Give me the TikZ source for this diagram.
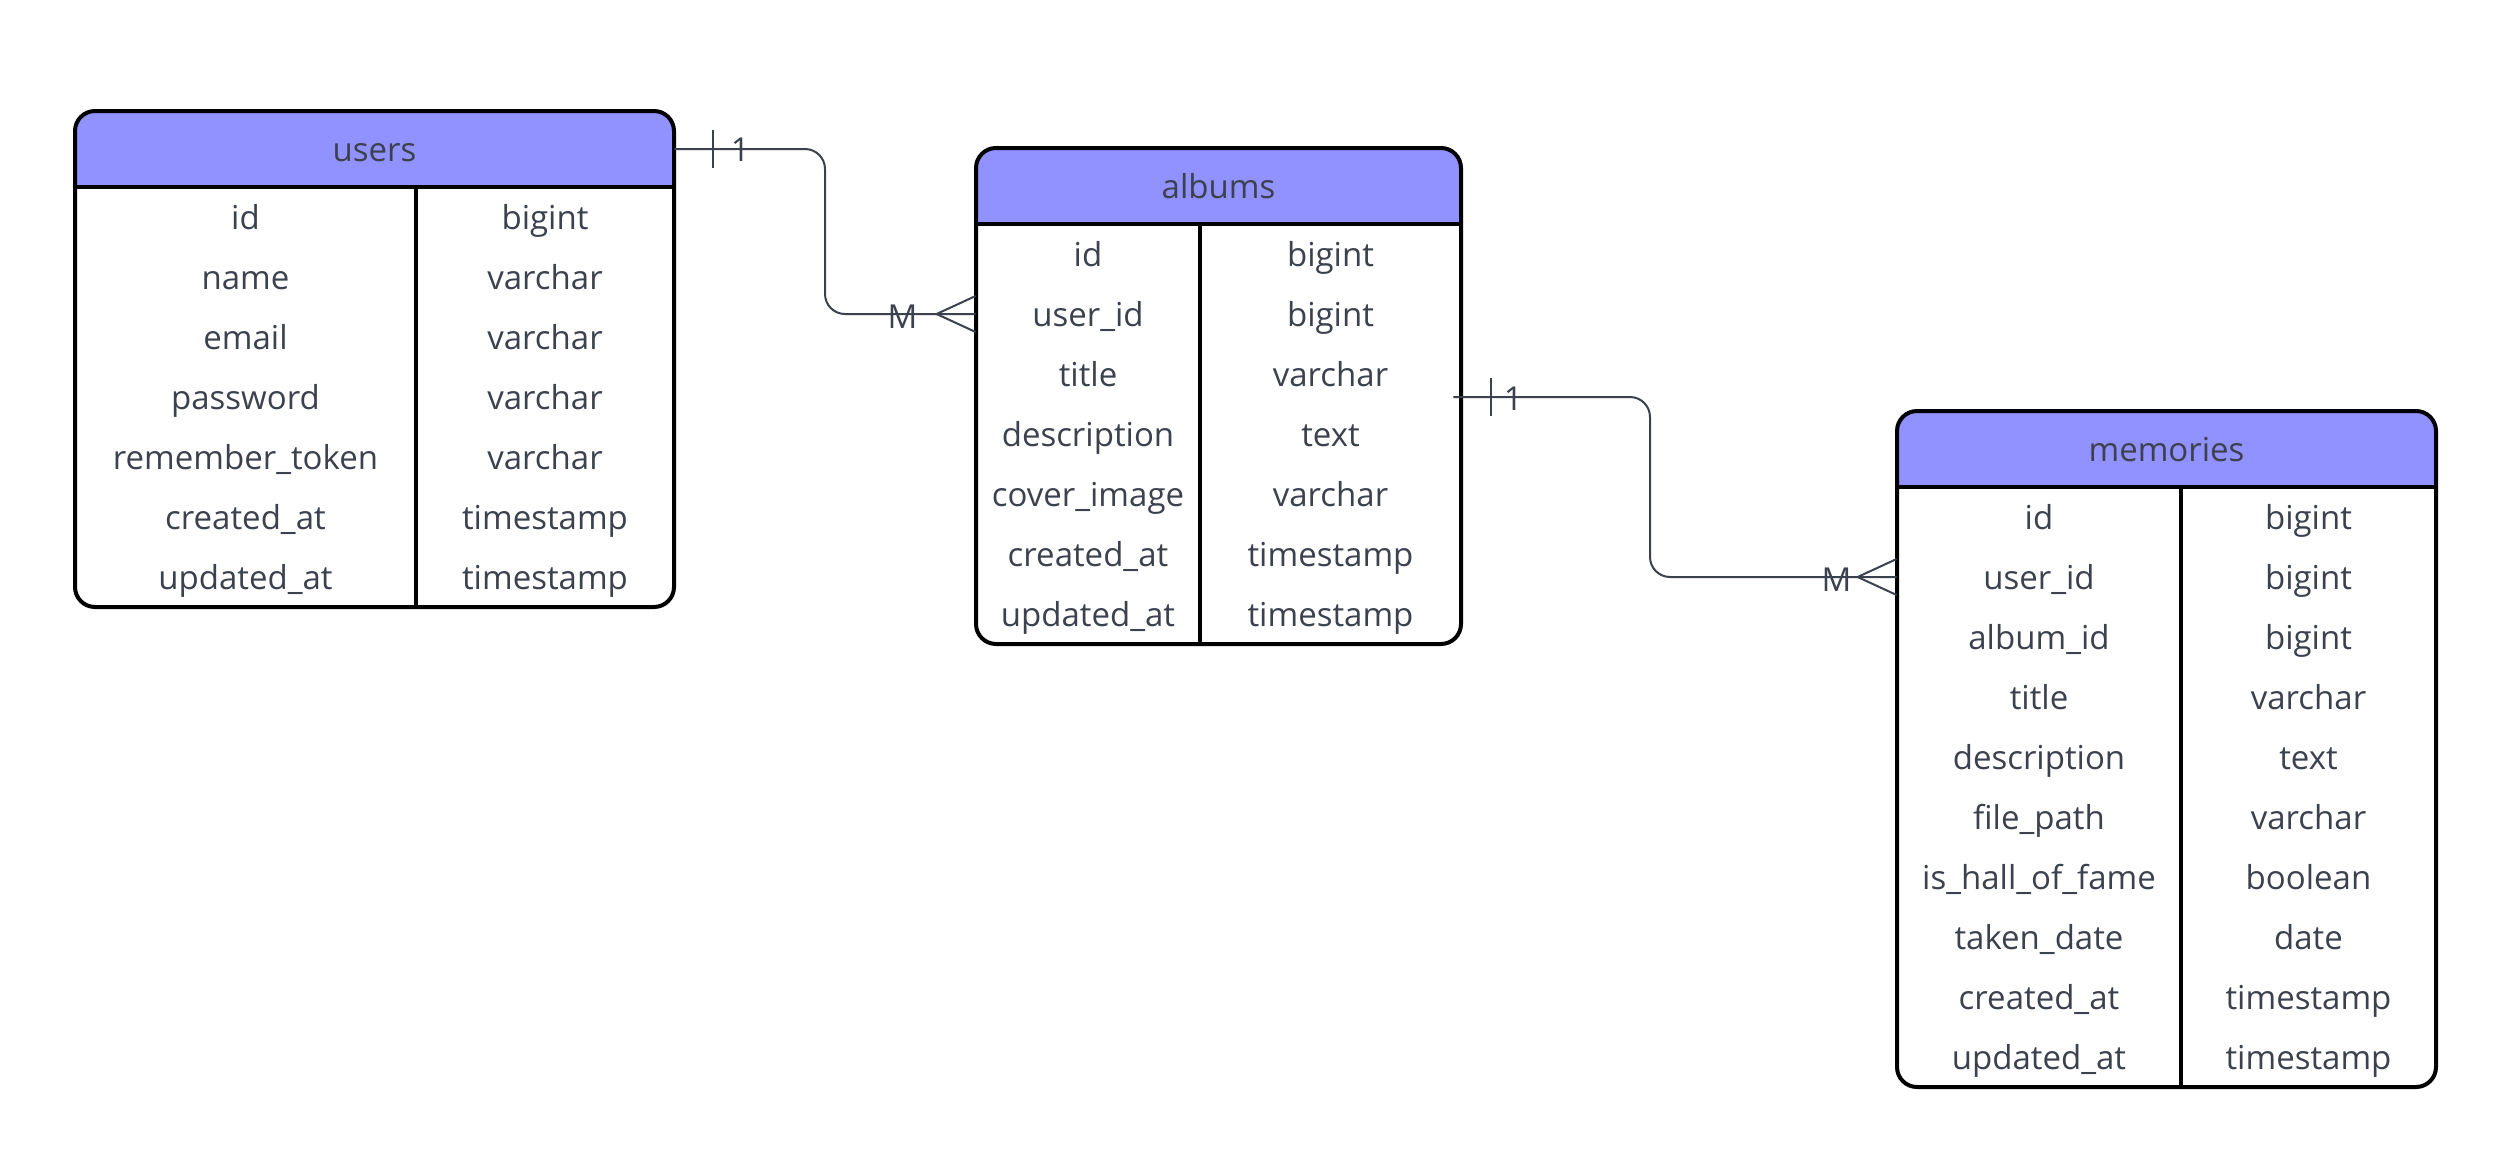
\documentclass[tikz,border=0pt]{standalone}
\usepackage{fontspec}
\setmainfont{Open Sans}
\usetikzlibrary{calc}

\definecolor{head}{HTML}{9191FF}
\definecolor{ink}{HTML}{3B414D}

\begin{document}
\begin{tikzpicture}[x=0.5pt, y=-0.5pt,
        txt/.style={text=ink, font=\fontsize{16.5}{19}\selectfont, inner sep=0pt, minimum height=30pt,
            text height=12pt, text depth=0pt},
        border/.style={line width=2pt, rounded corners=10pt},
        rule/.style={line width=2pt},
        rel/.style={draw=ink, line width=1pt},
        card/.style={text=ink, font=\fontsize{16.5}{19}\selectfont, inner sep=0pt}]
    \useasboundingbox (0,0) rectangle (2513,1163);
    % users
    \begin{scope}
        \clip[rounded corners=10pt] (75,111) rectangle (674,607);
        \fill[head] (75,111) rectangle (674,187);
    \end{scope}
    \node[txt, minimum width=299.5pt, minimum height=38pt] (users) at (374.5,149) {users};
    \foreach \n/\t [count=\i] in {id/bigint, name/varchar, email/varchar, password/varchar,
            remember\_token/varchar, created\_at/timestamp, updated\_at/timestamp} {
        \node[txt, minimum width=170.5pt] (users-n\i) at (245.5,157+60*\i) {\n};
        \node[txt, minimum width=129pt] (users-t\i) at (545,157+60*\i) {\t};
    }
    \draw[border] (75,111) rectangle (674,607);
    \draw[rule] (75,187) -- (674,187) (416,187) -- (416,607);
    % albums
    \begin{scope}
        \clip[rounded corners=10pt] (976,148) rectangle (1461,644);
        \fill[head] (976,148) rectangle (1461,224);
    \end{scope}
    \node[txt, minimum width=242.5pt, minimum height=38pt] (albums) at (1218.5,186) {albums};
    \foreach \n/\t [count=\i] in {id/bigint, user\_id/bigint, title/varchar, description/text,
            cover\_image/varchar, created\_at/timestamp, updated\_at/timestamp} {
        \node[txt, minimum width=112pt] (albums-n\i) at (1088,194+60*\i) {\n};
        \node[txt, minimum width=130.5pt] (albums-t\i) at (1330.5,194+60*\i) {\t};
    }
    \draw[border] (976,148) rectangle (1461,644);
    \draw[rule] (976,224) -- (1461,224) (1200,224) -- (1200,644);
    % memories
    \begin{scope}
        \clip[rounded corners=10pt] (1897,411) rectangle (2436,1087);
        \fill[head] (1897,411) rectangle (2436,487);
    \end{scope}
    \node[txt, minimum width=269.5pt, minimum height=38pt] (memories) at (2166.5,449) {memories};
    \foreach \n/\t [count=\i] in {id/bigint, user\_id/bigint, album\_id/bigint, title/varchar,
            description/text, file\_path/varchar, is\_hall\_of\_fame/boolean, taken\_date/date,
            created\_at/timestamp, updated\_at/timestamp} {
        \node[txt, minimum width=142pt] (memories-n\i) at (2039,457+60*\i) {\n};
        \node[txt, minimum width=127.5pt] (memories-t\i) at (2308.5,457+60*\i) {\t};
    }
    \draw[border] (1897,411) rectangle (2436,1087);
    \draw[rule] (1897,487) -- (2436,487) (2181,487) -- (2181,1087);
    % users 1 -- M albums
    \draw[rel, rounded corners=10pt] (users.east) -- (825,149) -- (825,314) -- (albums-n2.west);
    \draw[rel] ($(users.east)+(39,-19)$) -- ($(users.east)+(39,19)$);
    \draw[rel] ($(albums-n2.west)+(0,-18)$) -- ($(albums-n2.west)+(-39,0)$) -- ($(albums-n2.west)+(0,18)$);
    \node[card] (one-a) at ($(users.east)+(66,1)$) {1};
    \node[card] (many-a) at ($(albums-n2.west)+(-73,3)$) {M};
    % albums 1 -- M memories
    \draw[rel, rounded corners=10pt] ([shift={(-8,23)}]albums-t3.east) -- (1650,397) -- (1650,577) -- (memories-n2.west);
    \draw[rel] ($(albums-t3.east)+(30,4)$) -- ($(albums-t3.east)+(30,42)$);
    \draw[rel] ($(memories-n2.west)+(0,-18)$) -- ($(memories-n2.west)+(-39,0)$) -- ($(memories-n2.west)+(0,18)$);
    \node[card] (one-b) at ($(albums-t3.east)+(52,25)$) {1};
    \node[card] (many-b) at ($(memories-n2.west)+(-60,3)$) {M};
\end{tikzpicture}
\end{document}
